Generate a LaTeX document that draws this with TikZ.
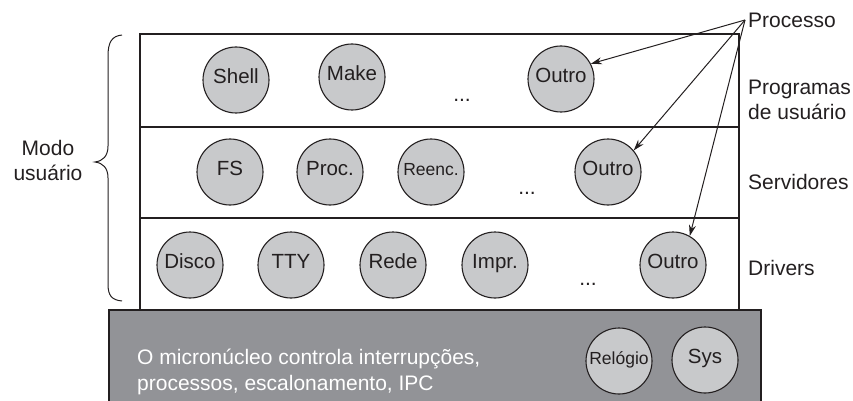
\documentclass[tikz,border=0pt]{standalone}
\usepackage{fontspec}
\setmainfont{Liberation Sans}
\usetikzlibrary{arrows.meta}
\definecolor{ink}{HTML}{231F20}
\definecolor{proc}{HTML}{C8C9CB}
\definecolor{kern}{HTML}{929397}
\tikzset{
  proc/.style={circle, draw=ink, fill=proc, line width=1.1pt, minimum size=66pt, inner sep=0pt, font=\fontsize{20.5}{22}\selectfont, text=ink, text height=0.72em, text depth=0.02em},
  smallproc/.style={proc, font=\fontsize{17.5}{19}\selectfont},
  lbl/.style={anchor=west, font=\fontsize{21}{25}\selectfont, text=ink, inner sep=0pt, align=left},
  dots/.style={font=\fontsize{21}{22}\selectfont, text=ink, inner sep=0pt},
  layer/.style={draw=ink, line width=1.1pt},
  arr/.style={draw=ink, line width=1pt, -{Stealth[length=11pt,width=7pt]}}
}
\begin{document}
\begin{tikzpicture}[x=1pt,y=-1pt]
\useasboundingbox (0,0) rectangle (853,401);
% kernel
\draw[draw=ink, fill=kern, line width=1.1pt] (109,310) rectangle (761,410);
% layers
\draw[layer] (140,34) rectangle (739,127);
\draw[layer] (140,127) rectangle (739,218);
\draw[layer] (140,218) rectangle (739,310);
% row 1
\node[proc] (shell) at (236,80) {Shell};
\node[proc] (make) at (352,77) {Make};
\node[dots] (d1) at (462,100) {...};
\node[proc] (o1) at (561,79) {Outro};
% row 2
\node[proc] (fs) at (230,172) {FS};
\node[proc] (pr) at (330,172) {Proc.};
\node[smallproc] (re) at (431,172) {Reenc.};
\node[dots] (d2) at (527,193) {...};
\node[proc] (o2) at (608,172) {Outro};
% row 3
\node[proc] (disco) at (190,265) {Disco};
\node[proc] (tty) at (291,265) {TTY};
\node[proc] (rede) at (393,265) {Rede};
\node[proc] (impr) at (495,265) {Impr.};
\node[dots] (d3) at (588,284) {...};
\node[proc] (o3) at (673,265) {Outro};
% kernel content
\node[smallproc] (rel) at (619,361) {Relógio};
\node[proc] (sys) at (705,360) {Sys};
\node[lbl, text=white, font=\fontsize{21}{25.5}\selectfont] (ktxt) at (137,372) {O micronúcleo controla interrupções,\\processos, escalonamento, IPC};
% right labels
\node[lbl] (processo) at (748,20) {Processo};
\node[lbl] (prog) at (748,100) {Programas\\de usuário};
\node[lbl] (serv) at (748,182) {Servidores};
\node[lbl] (drv) at (748,268) {Drivers};
% left label
\node[font=\fontsize{21}{25}\selectfont, text=ink, align=center, inner sep=0pt] (modo) at (48,160) {Modo\\usuário};
% brace
\draw[draw=ink, line width=1pt] (122,35) .. controls (112,36) and (108,42) .. (108,56) -- (108,146)
  .. controls (108,156) and (103,161) .. (95,162)
  .. controls (103,163) and (108,168) .. (108,178) -- (108,284)
  .. controls (108,296) and (112,300) .. (122,301);
% arrows
\coordinate (P) at (745,20);
\draw[arr] (P) -- (o1.27);
\draw[arr] (P) -- (o2.40);
\draw[arr] (P) -- (o3.60);
\end{tikzpicture}
\end{document}
